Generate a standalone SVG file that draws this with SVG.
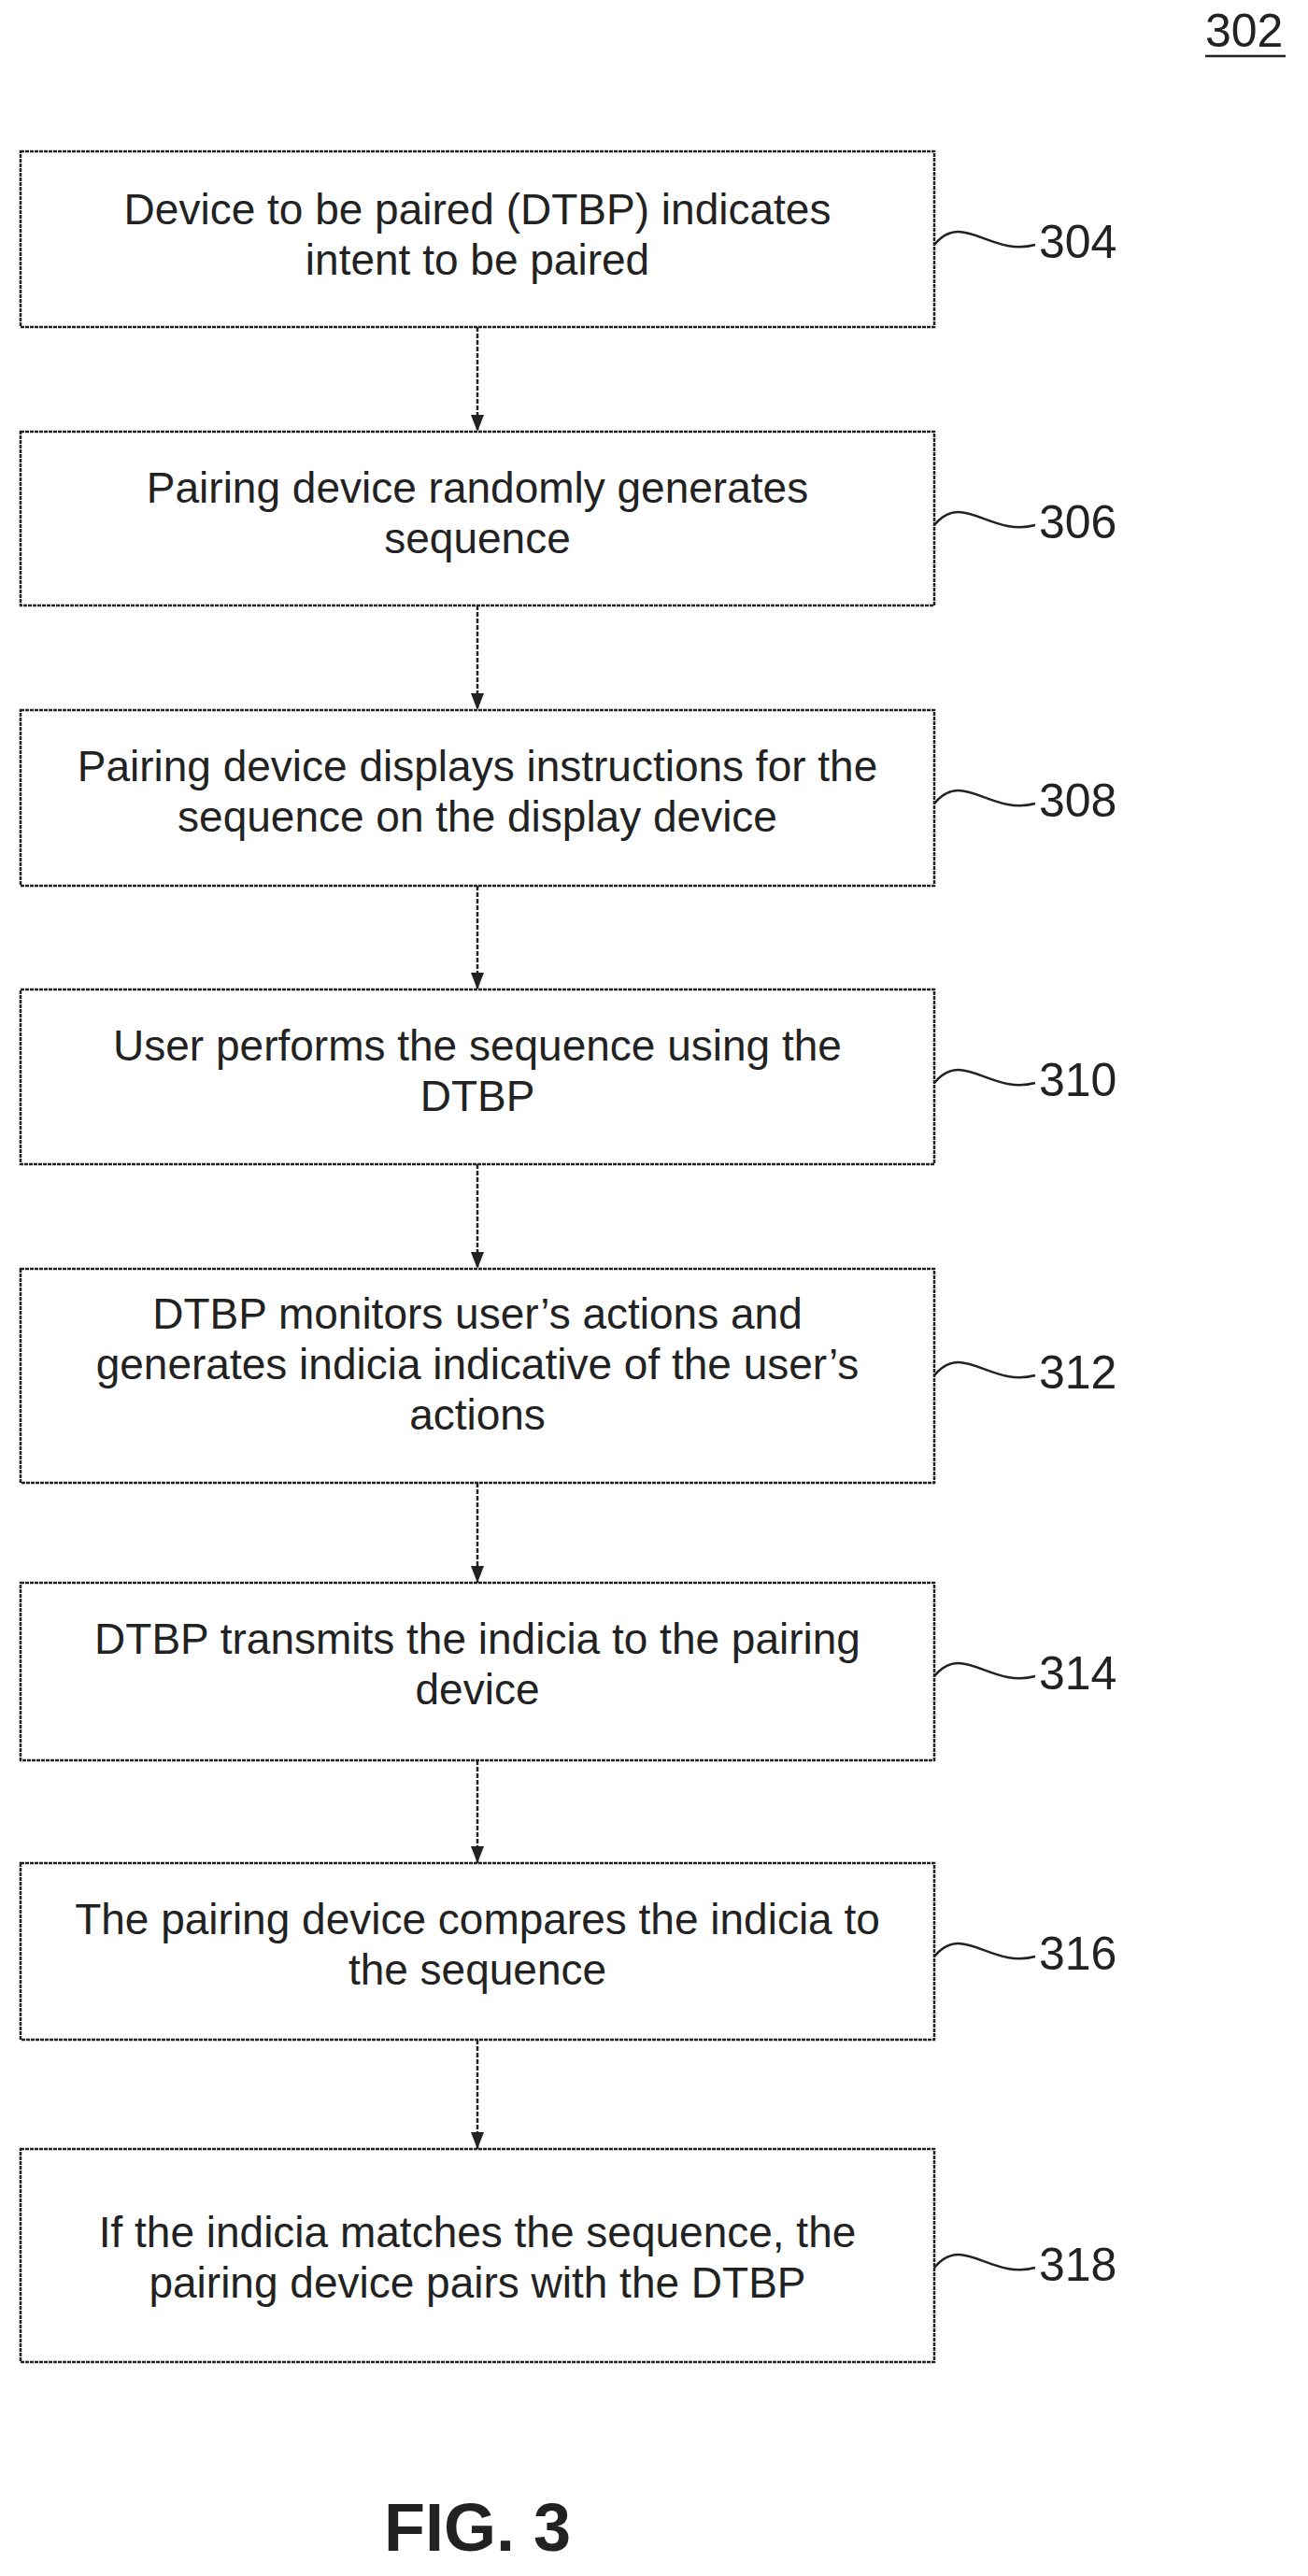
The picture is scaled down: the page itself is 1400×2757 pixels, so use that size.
<svg xmlns="http://www.w3.org/2000/svg" width="1400" height="2757" viewBox="0 0 1400 2757">
<style>
.b{fill:#fff;stroke:#222;stroke-width:2.5;stroke-dasharray:4 1}
.t{font-family:"Liberation Sans",Arial,sans-serif;font-size:46px;fill:#222;text-anchor:middle}
.r{font-family:"Liberation Sans",Arial,sans-serif;font-size:50px;fill:#222}
.c{stroke:#222;stroke-width:2.5;fill:none;stroke-dasharray:5 2}
.s{stroke:#222;stroke-width:2.5;fill:none}
</style>
<defs><marker id="a" markerWidth="18" markerHeight="14" refX="18" refY="7" orient="auto" markerUnits="userSpaceOnUse" viewBox="0 0 18 14"><path d="M0,0 L18,7 L0,14 Z" fill="#222"/></marker></defs>
<rect width="1400" height="2757" fill="#fff"/>
<text x="1290" y="50" class="r">302</text>
<line x1="1290" y1="60" x2="1376" y2="60" stroke="#222" stroke-width="2.5"/>
<g id="n304"><rect class="b" x="22" y="162" width="978" height="188"/>
<text class="t" x="511" y="240">Device to be paired (DTBP) indicates</text><text class="t" x="511" y="294">intent to be paired</text>
<path class="s" d="M1000,262 C1030,225 1060,275 1108,262"/><text class="r" x="1112" y="276">304</text></g>
<g id="n306"><rect class="b" x="22" y="462" width="978" height="186"/>
<text class="t" x="511" y="538">Pairing device randomly generates</text><text class="t" x="511" y="592">sequence</text>
<path class="s" d="M1000,562 C1030,525 1060,575 1108,562"/><text class="r" x="1112" y="576">306</text></g>
<g id="n308"><rect class="b" x="22" y="760" width="978" height="188"/>
<text class="t" x="511" y="836">Pairing device displays instructions for the</text><text class="t" x="511" y="890">sequence on the display device</text>
<path class="s" d="M1000,860 C1030,823 1060,873 1108,860"/><text class="r" x="1112" y="874">308</text></g>
<g id="n310"><rect class="b" x="22" y="1059" width="978" height="187"/>
<text class="t" x="511" y="1135">User performs the sequence using the</text><text class="t" x="511" y="1189">DTBP</text>
<path class="s" d="M1000,1159 C1030,1122 1060,1172 1108,1159"/><text class="r" x="1112" y="1173">310</text></g>
<g id="n312"><rect class="b" x="22" y="1358" width="978" height="229"/>
<text class="t" x="511" y="1422">DTBP monitors user’s actions and</text><text class="t" x="511" y="1476">generates indicia indicative of the user’s</text><text class="t" x="511" y="1530">actions</text>
<path class="s" d="M1000,1472 C1030,1435 1060,1485 1108,1472"/><text class="r" x="1112" y="1486">312</text></g>
<g id="n314"><rect class="b" x="22" y="1694" width="978" height="190"/>
<text class="t" x="511" y="1770">DTBP transmits the indicia to the pairing</text><text class="t" x="511" y="1824">device</text>
<path class="s" d="M1000,1794 C1030,1757 1060,1807 1108,1794"/><text class="r" x="1112" y="1808">314</text></g>
<g id="n316"><rect class="b" x="22" y="1994" width="978" height="189"/>
<text class="t" x="511" y="2070">The pairing device compares the indicia to</text><text class="t" x="511" y="2124">the sequence</text>
<path class="s" d="M1000,2094 C1030,2057 1060,2107 1108,2094"/><text class="r" x="1112" y="2108">316</text></g>
<g id="n318"><rect class="b" x="22" y="2300" width="978" height="228"/>
<text class="t" x="511" y="2405">If the indicia matches the sequence, the</text><text class="t" x="511" y="2459">pairing device pairs with the DTBP</text>
<path class="s" d="M1000,2427 C1030,2390 1060,2440 1108,2427"/><text class="r" x="1112" y="2441">318</text></g>
<g id="connectors">
<line class="c" x1="511" y1="350" x2="511" y2="462" marker-end="url(#a)"/>
<line class="c" x1="511" y1="648" x2="511" y2="760" marker-end="url(#a)"/>
<line class="c" x1="511" y1="948" x2="511" y2="1059" marker-end="url(#a)"/>
<line class="c" x1="511" y1="1246" x2="511" y2="1358" marker-end="url(#a)"/>
<line class="c" x1="511" y1="1587" x2="511" y2="1694" marker-end="url(#a)"/>
<line class="c" x1="511" y1="1884" x2="511" y2="1994" marker-end="url(#a)"/>
<line class="c" x1="511" y1="2183" x2="511" y2="2300" marker-end="url(#a)"/>
</g>
<text x="511" y="2730" font-family="Liberation Sans,Arial,sans-serif" font-weight="bold" font-size="72" fill="#222" text-anchor="middle">FIG. 3</text>
</svg>
